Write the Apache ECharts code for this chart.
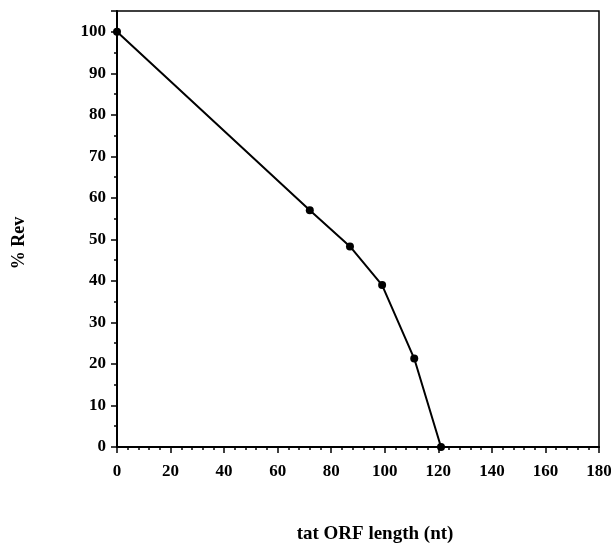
<!DOCTYPE html>
<html><head><meta charset="utf-8">
<script src="https://cdn.jsdelivr.net/npm/echarts@6/dist/echarts.min.js"></script>
<style>html,body{margin:0;padding:0;background:#fff}#c{width:611px;height:543px}</style>
</head><body><div id="c"></div>
<script>
var xValues = [0, 72, 87, 99, 111, 121];
var revValues = [100, 57, 48.3, 39, 21.3, 0];
var xTitle = 'tat ORF length (nt)';
var yTitle = '% Rev';

var font = 'Liberation Serif';
var chart = echarts.init(document.getElementById('c'), null, {renderer: 'canvas'});
chart.setOption({
  animation: false,
  backgroundColor: '#fff',
  grid: {left: 117, right: 12, top: 11, bottom: 96, show: true, borderColor: '#000', borderWidth: 1.5,
         containLabel: false, outerBoundsMode: 'none'},
  xAxis: {
    type: 'value', min: 0, max: 180, interval: 20,
    name: xTitle, nameLocation: 'middle', nameGap: 78,
    nameTextStyle: {fontFamily: font, fontWeight: 'bold', fontSize: 19, color: '#000', padding: [0, 0, 0, 34]},
    axisLine: {lineStyle: {color: '#000', width: 2}},
    axisTick: {length: 6, lineStyle: {color: '#000', width: 1.5}},
    minorTick: {show: true, splitNumber: 5, length: 3, lineStyle: {color: '#000', width: 1.5}},
    axisLabel: {fontFamily: font, fontWeight: 'bold', fontSize: 17, color: '#000', margin: 16},
    splitLine: {show: false}
  },
  yAxis: {
    type: 'value', min: 0, max: 105, interval: 10,
    name: yTitle, nameLocation: 'middle', nameGap: 89, nameRotate: 90,
    nameTextStyle: {fontFamily: font, fontWeight: 'bold', fontSize: 18, color: '#000', padding: [0, 28, 0, 0]},
    axisLine: {lineStyle: {color: '#000', width: 2}},
    axisTick: {length: 6, lineStyle: {color: '#000', width: 1.5}},
    minorTick: {show: true, splitNumber: 2, length: 3, lineStyle: {color: '#000', width: 1.5}},
    axisLabel: {fontFamily: font, fontWeight: 'bold', fontSize: 17, color: '#000', margin: 11, showMaxLabel: false,
      formatter: function(v){ return v > 100 ? '' : String(v); }},
    splitLine: {show: false}
  },
  series: [{
    type: 'line',
    data: xValues.map(function(x, i){ return [x, revValues[i]]; }),
    symbol: 'circle', symbolSize: 8,
    itemStyle: {color: '#000'},
    lineStyle: {color: '#000', width: 2},
    clip: false
  }]
});
</script></body></html>
